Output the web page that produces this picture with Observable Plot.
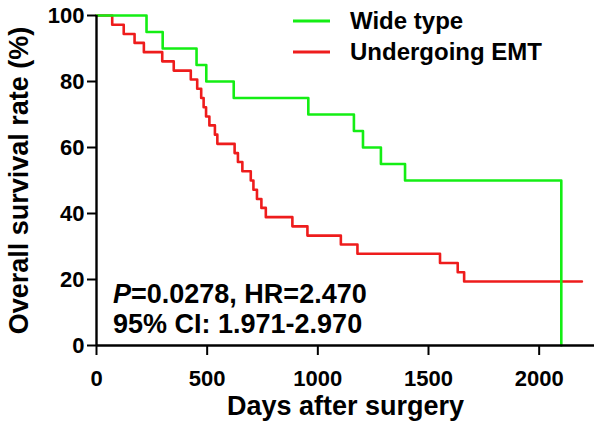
<!DOCTYPE html>
<html>
<head>
<meta charset="utf-8">
<script src="https://cdn.jsdelivr.net/npm/d3@7"></script>
<script src="https://cdn.jsdelivr.net/npm/@observablehq/plot@0.6"></script>
<style>
  html, body { margin: 0; padding: 0; background: #fff; }
  #chart { width: 600px; height: 429px; }
</style>
</head>
<body>
<div id="chart"></div>
<script>
// Wide type group (Kaplan–Meier steps)
const wideDays = [0, 226, 299, 452, 496, 620, 957, 1163, 1204, 1285, 1394, 2100];
const wideSurv = [100, 95, 90, 85, 80, 75, 70, 65, 60, 55, 50, 0];

// Undergoing EMT group
const emtDays = [0, 71, 123, 172, 214, 297, 349, 426, 455, 473, 484, 495, 510, 535, 546,
                 624, 639, 659, 697, 709, 725, 745, 765, 885, 953, 1104, 1179, 1552, 1632, 1661, 2193];
const emtSurv = [100, 97.2, 94.4, 91.7, 88.9, 86.1, 83.3, 80.6, 77.8, 75.0, 72.2, 69.4, 66.7, 63.9, 61.1,
                 58.3, 55.6, 52.8, 50.0, 47.2, 44.4, 41.7, 38.9, 36.1, 33.3, 30.6, 27.8, 25.0, 22.2, 19.4, 19.4];

const xTicks = [0, 500, 1000, 1500, 2000];
const yTicks = [0, 20, 40, 60, 80, 100];

const seriesNames = ["Wide type", "Undergoing EMT"];
const seriesColors = ["#14ee14", "#ee1c1c"];

const wide = wideDays.map((d, i) => ({days: d, surv: wideSurv[i]}));
const emt = emtDays.map((d, i) => ({days: d, surv: emtSurv[i]}));

const font = "'Liberation Sans', Arial, Helvetica, sans-serif";

const chart = Plot.plot({
  width: 600,
  height: 429,
  marginLeft: 96,
  marginRight: 6,
  marginTop: 15,
  marginBottom: 84,
  style: {fontFamily: font, fontWeight: "bold", fontSize: "22px", color: "#000", background: "#fff"},
  x: {domain: [0, 2250]},
  y: {domain: [0, 100]},
  marks: [
    Plot.line(emt, {x: "days", y: "surv", curve: "step-after", stroke: seriesColors[1], strokeWidth: 2.6}),
    Plot.line(wide, {x: "days", y: "surv", curve: "step-after", stroke: seriesColors[0], strokeWidth: 2.6}),
    Plot.axisY({ticks: yTicks, tickSize: 9, tickPadding: 3, strokeWidth: 2, label: null, fontSize: 22, tickFormat: d => String(d)}),
    Plot.axisX({ticks: xTicks, tickSize: 10, tickPadding: 15, strokeWidth: 2, label: null, fontSize: 22, tickFormat: d => String(d)}),
    Plot.ruleX([0], {stroke: "#000", strokeWidth: 2.4}),
    Plot.ruleY([0], {stroke: "#000", strokeWidth: 2.4}),
    Plot.text(["Overall survival rate (%)"], {frameAnchor: "left", textAnchor: "middle", rotate: -90, dx: -77, fontSize: 27, fontWeight: "bold", fill: "#000"}),
    Plot.text(["Days after surgery"], {frameAnchor: "bottom", dy: 69, fontSize: 27, fontWeight: "bold", fill: "#000"})
  ]
});

const svg = d3.select(chart);
// Legend
const legend = svg.append("g").attr("text-anchor", "start");
seriesNames.forEach((name, i) => {
  const y = 21 + i * 31;
  legend.append("line").attr("x1", 293).attr("x2", 330).attr("y1", y).attr("y2", y)
    .attr("stroke", seriesColors[i]).attr("stroke-width", 2.8);
  legend.append("text").attr("x", 350).attr("y", y + 8)
    .attr("font-size", 24).attr("font-weight", "bold").attr("font-family", font)
    .attr("fill", "#000").text(name);
});
// Statistics annotation
const ann = svg.append("g").attr("text-anchor", "start").attr("font-size", 27).attr("font-weight", "bold").attr("font-family", font).attr("fill", "#000");
const t1 = ann.append("text").attr("x", 113).attr("y", 303);
t1.append("tspan").attr("font-style", "italic").text("P");
t1.append("tspan").text("=0.0278, HR=2.470");
ann.append("text").attr("x", 113).attr("y", 333).text("95% CI: 1.971-2.970");

document.getElementById("chart").appendChild(chart);
</script>
</body>
</html>
